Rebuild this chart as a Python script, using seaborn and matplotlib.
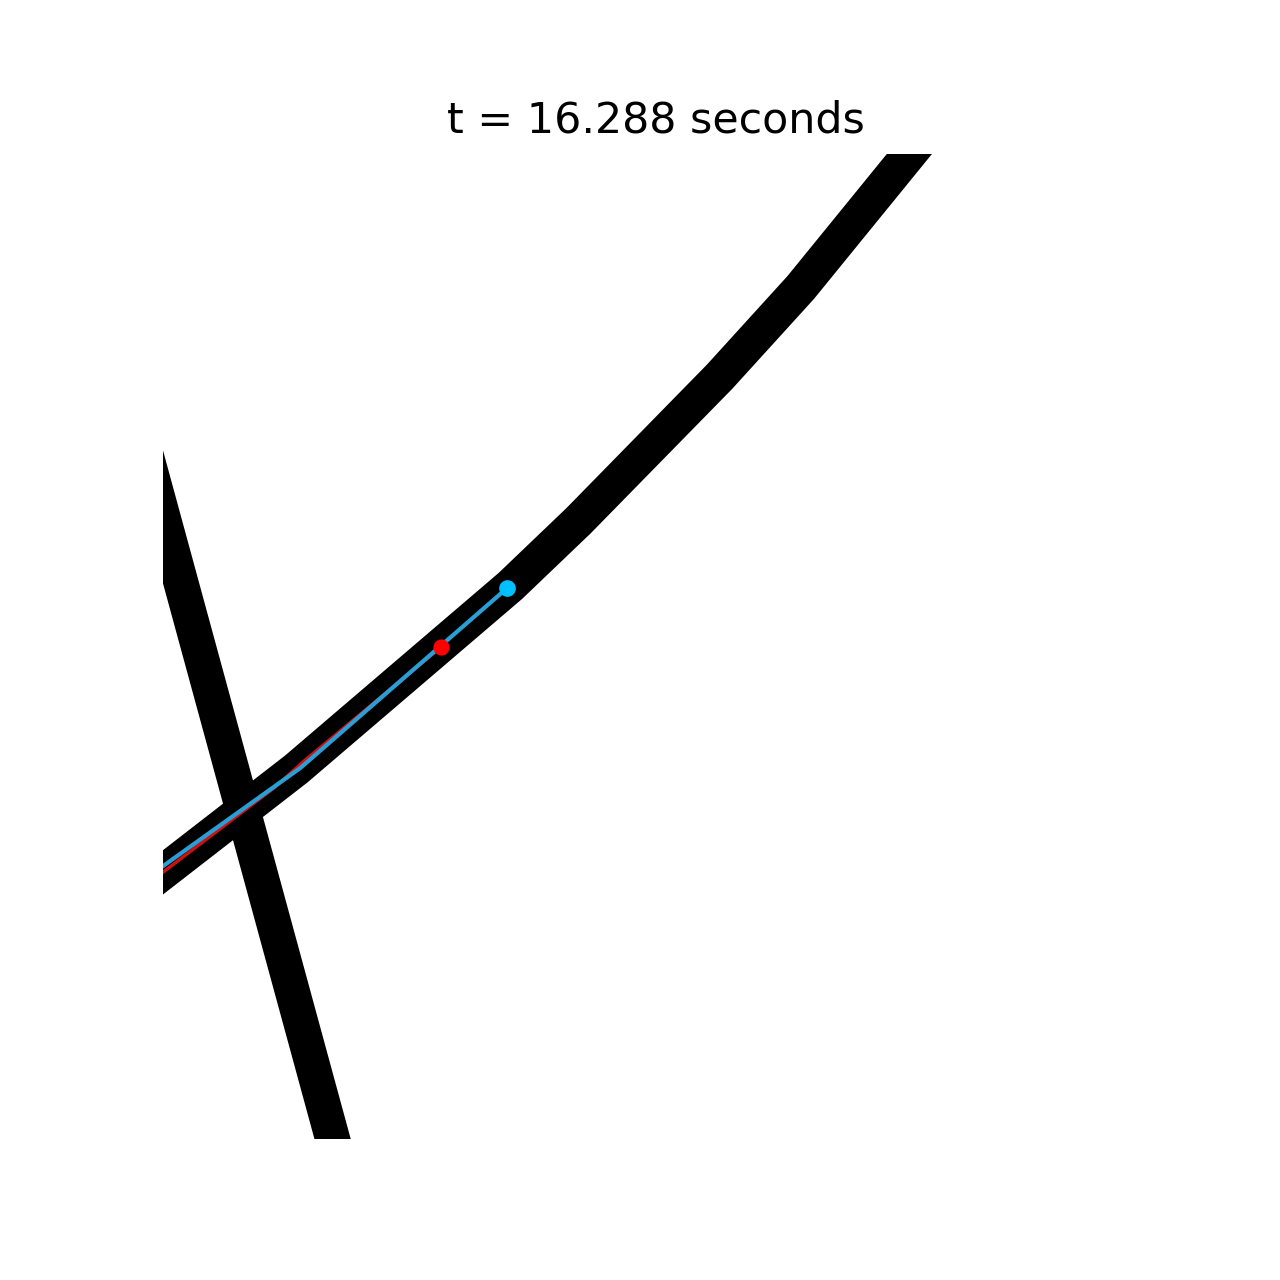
import pandas as pd
import matplotlib
matplotlib.use('Agg')
import matplotlib.pyplot as plt
import seaborn as sns

# road centerlines (world coords, m)
road_a_x = [-6.40, 13.50, 35.23, 42.13, 56.45, 64.67, 80.20]
road_a_y = [22.13, 37.56, 56.14, 62.74, 77.36, 86.40, 105.48]
road_b_x = [-4.37, 18.88]
road_b_y = [79.09, -6.19]

# trajectories
ref_x = [-2.34, 0.0, 11.37, 14.42, 28.22]
ref_y = [25.33, 27.11, 35.74, 38.48, 49.95]
ego_x = [-2.34, 13.91, 34.92]
ego_y = [26.05, 37.66, 55.94]

t_now = 16.288

sns.set_style("white")
fig, ax = plt.subplots(figsize=(6.4, 6.4), dpi=200)

for rx, ry in [(road_a_x, road_a_y), (road_b_x, road_b_y)]:
    road = pd.DataFrame({'x': rx, 'y': ry})
    sns.lineplot(data=road, x='x', y='y', sort=False, estimator=None, ax=ax,
                 color='black', linewidth=12.6, solid_joinstyle='miter',
                 solid_capstyle='butt')

ref = pd.DataFrame({'x': ref_x, 'y': ref_y})
ego = pd.DataFrame({'x': ego_x, 'y': ego_y})
sns.lineplot(data=ref, x='x', y='y', sort=False, estimator=None, ax=ax,
             color='#d01010', linewidth=1.2)
sns.lineplot(data=ego, x='x', y='y', sort=False, estimator=None, ax=ax,
             color='#2a9fd6', linewidth=1.5)
ax.plot(ref_x[-1], ref_y[-1], 'o', color='red', markersize=4.8, zorder=5)
ax.plot(ego_x[-1], ego_y[-1], 'o', color='#00bfff', markersize=5, zorder=5)

ax.set_xlim(0, 100)
ax.set_ylim(0, 100)
ax.set_aspect('equal')
ax.axis('off')
ax.set_title(f't = {t_now:.3f} seconds', fontsize=15.4, color='black', pad=7.6)

plt.savefig('out.png', dpi=200)
